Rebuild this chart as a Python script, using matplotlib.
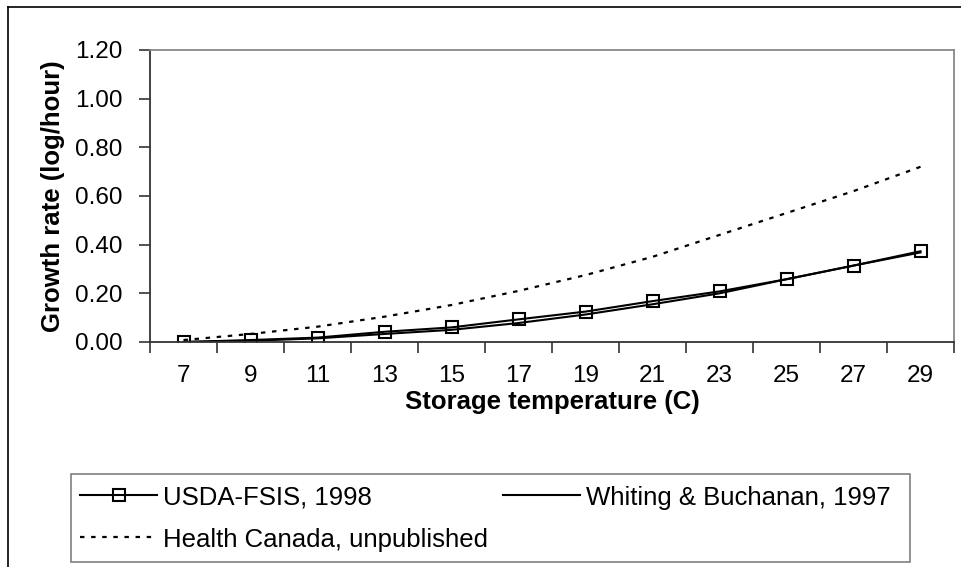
import matplotlib
matplotlib.use("Agg")
import matplotlib.pyplot as plt
from matplotlib.lines import Line2D
from matplotlib.patches import Rectangle

plt.rcParams['font.family'] = ['Liberation Sans', 'DejaVu Sans']
plt.rcParams['font.size'] = 17

# storage temperatures (C) and growth rates (log/hour)
temps = [7, 9, 11, 13, 15, 17, 19, 21, 23, 25, 27, 29]
usda_fsis = [0.000, 0.008, 0.018, 0.042, 0.060, 0.093, 0.125, 0.168, 0.208, 0.258, 0.314, 0.373]
whiting = [0.000, 0.005, 0.015, 0.033, 0.050, 0.078, 0.113, 0.155, 0.200, 0.258, 0.314, 0.368]
health_canada = [0.008, 0.033, 0.063, 0.104, 0.152, 0.210, 0.275, 0.350, 0.440, 0.530, 0.620, 0.720]
y_ticks = [0.0, 0.2, 0.4, 0.6, 0.8, 1.0, 1.2]

W, H = 961, 567
fig = plt.figure(figsize=(W / 100, H / 100), dpi=100)
ax = fig.add_axes([150 / W, 1 - 342 / H, (954 - 150) / W, (342 - 50) / H])

usda_style = dict(color='black', lw=1.5, marker='s', ms=8.5, mfc='none', mec='black', mew=1.5)
whit_style = dict(color='black', lw=1.5)
hc_style = dict(color='black', lw=1.6, linestyle=(0, (2, 3)))

x = list(range(len(temps)))
ax.plot(x, usda_fsis, **usda_style)
ax.plot(x, whiting, **whit_style)
ax.plot(x, health_canada, **hc_style)

ax.set_xlim(-0.5, len(temps) - 0.5)
ax.set_ylim(0, 1.2)
ax.set_yticks(y_ticks)
ax.set_yticklabels([f"{v:.2f}" for v in y_ticks], fontsize=17.5)
# category axis: labels centred, tick marks between categories
ax.set_xticks(x)
ax.set_xticklabels([str(t) for t in temps], fontsize=17.5)
ax.set_xticks([i - 0.5 for i in range(len(temps) + 1)], minor=True)
ax.tick_params(axis='x', which='major', length=0, pad=16.5)
ax.tick_params(axis='x', which='minor', length=8, width=1.2, color='#333333')
ax.tick_params(axis='y', length=8, width=1.2, color='#333333', pad=12)

for side in ('left', 'bottom'):
    ax.spines[side].set_color('#333333')
    ax.spines[side].set_linewidth(1.3)
for side in ('top', 'right'):
    ax.spines[side].set_color('#888888')
    ax.spines[side].set_linewidth(1.3)

ax.set_xlabel('Storage temperature (C)', fontweight='bold', fontsize=18.5, labelpad=2)
ax.set_ylabel('Growth rate (log/hour)', fontweight='bold', fontsize=18.5, va='center')
ax.yaxis.set_label_coords((53 - 150) / 804, 0.5)


def px(xp, yp):
    # pixel position (from top-left) -> figure fraction
    return xp / W, 1 - yp / H


# legend box below the chart, two entries on the first row
lx0, ly0 = px(71, 562)
lx1, ly1 = px(910, 474)
fig.add_artist(Rectangle((lx0, ly0), lx1 - lx0, ly1 - ly0, transform=fig.transFigure,
                         facecolor='white', edgecolor='#808080', lw=1.2))
entries = [
    ('USDA-FSIS, 1998', usda_style, 80, 495),
    ('Whiting & Buchanan, 1997', whit_style, 503, 495),
    ('Health Canada, unpublished', hc_style, 80, 537),
]
for label, style, hx, hy in entries:
    style = dict(style)
    marker = style.pop('marker', None)
    xa, ya = px(hx, hy)
    xb, _ = px(hx + 77, hy)
    fig.add_artist(Line2D([xa, xb], [ya, ya], transform=fig.transFigure, **style))
    if marker:
        fig.add_artist(Line2D([(xa + xb) / 2], [ya], transform=fig.transFigure,
                              marker=marker, ms=8.5, mfc='none', mec='black', mew=1.5))
    tx, ty = px(hx + 83, hy)
    fig.text(tx, ty, label, fontsize=18.5, ha='left', va='center_baseline')

# outer chart border
fig.add_artist(Line2D([8 / W, 8 / W], [0, 1 - 7 / H], color='black', lw=1.2))
fig.add_artist(Line2D([8 / W, 1], [1 - 7 / H, 1 - 7 / H], color='black', lw=1.2))

fig.savefig('out.png', dpi=100)
